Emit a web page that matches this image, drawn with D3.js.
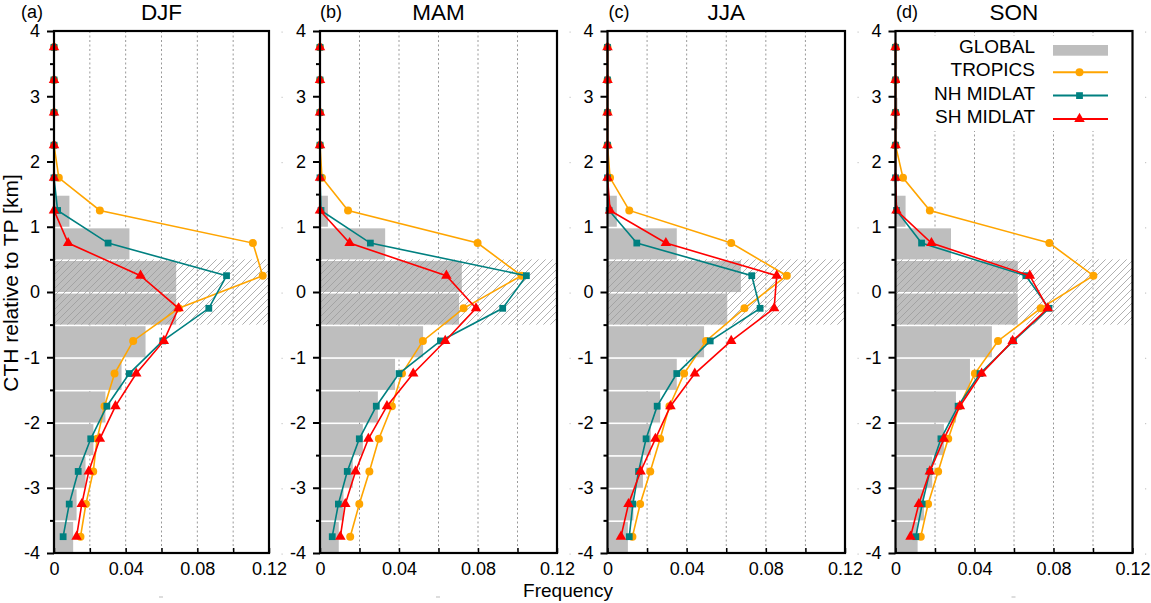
<!DOCTYPE html>
<html><head><meta charset="utf-8">
<script src="https://cdn.jsdelivr.net/npm/d3@7"></script>
<style>
body{margin:0;background:#fff}
svg{display:block;font-family:"Liberation Sans",Arial,Helvetica,sans-serif}
</style>
</head><body>
<svg id="chart" width="1151" height="603"></svg>
<script>
// ---------------- data ----------------
const binCenters = [3.75,3.25,2.75,2.25,1.75,1.25,0.75,0.25,-0.25,-0.75,-1.25,-1.75,-2.25,-2.75,-3.25,-3.75];
const seasons = ["DJF","MAM","JJA","SON"];
const panelTags = ["(a)","(b)","(c)","(d)"];
const yTicks = [-4,-3,-2,-1,0,1,2,3,4];
const yMinorTicks = [-3.5,-2.5,-1.5,-0.5,0.5,1.5,2.5,3.5];
const xTicks = [0,0.02,0.04,0.06,0.08,0.10,0.12];
const xLabelTicks = [0,0.04,0.08,0.12];
const xGrid = [0.02,0.04,0.06,0.08,0.10];
const seriesNames = ["GLOBAL","TROPICS","NH MIDLAT","SH MIDLAT"];

const globalDJF  = [0,0,0,0,0,0.0086,0.0421,0.0682,0.0682,0.0511,0.0377,0.0287,0.0220,0.0176,0.0126,0.0107];
const tropicsDJF = [0,0,0,0,0.0027,0.0256,0.1110,0.1165,0.0696,0.0442,0.0338,0.0282,0.0241,0.0219,0.0178,0.0148];
const nhDJF      = [0,0,0,0,0,0.0020,0.0302,0.0963,0.0864,0.0607,0.0420,0.0295,0.0205,0.0135,0.0085,0.0051];
const shDJF      = [0,0,0,0,0,0,0.0079,0.0483,0.0695,0.0613,0.0459,0.0343,0.0256,0.0194,0.0155,0.0126];

const globalMAM  = [0,0,0,0,0,0.0040,0.0330,0.0718,0.0704,0.0522,0.0380,0.0293,0.0217,0.0166,0.0119,0.0095];
const tropicsMAM = [0,0,0,0,0.0010,0.0142,0.0798,0.1020,0.0727,0.0521,0.0415,0.0364,0.0298,0.0250,0.0199,0.0153];
const nhMAM      = [0,0,0,0,0,0.0005,0.0255,0.1045,0.0925,0.0610,0.0400,0.0285,0.0199,0.0138,0.0093,0.0062];
const shMAM      = [0,0,0,0,0,0,0.0150,0.0640,0.0790,0.0634,0.0472,0.0339,0.0245,0.0180,0.0128,0.0103];

const globalJJA  = [0,0,0,0,0,0.0047,0.0350,0.0674,0.0605,0.0488,0.0350,0.0266,0.0219,0.0179,0.0131,0.0103];
const tropicsJJA = [0,0,0,0,0.0013,0.0110,0.0625,0.0906,0.0692,0.0498,0.0387,0.0313,0.0266,0.0216,0.0165,0.0126];
const nhJJA      = [0,0,0,0,0,0.0008,0.0148,0.0729,0.0771,0.0519,0.0350,0.0251,0.0195,0.0157,0.0128,0.0110];
const shJJA      = [0,0,0,0,0,0.0013,0.0295,0.0855,0.0842,0.0625,0.0441,0.0318,0.0242,0.0167,0.0106,0.0068];

const globalSON  = [0,0,0.0010,0,0,0.0051,0.0281,0.0619,0.0619,0.0488,0.0377,0.0306,0.0245,0.0186,0.0144,0.0112];
const tropicsSON = [0,0,0,0,0.0038,0.0174,0.0779,0.1002,0.0735,0.0519,0.0402,0.0323,0.0267,0.0216,0.0165,0.0128];
const nhSON      = [0,0,0,0,0,0.0005,0.0132,0.0660,0.0777,0.0597,0.0428,0.0317,0.0230,0.0174,0.0135,0.0103];
const shSON      = [0,0,0,0,0,0.0005,0.0182,0.0680,0.0771,0.0593,0.0436,0.0326,0.0245,0.0174,0.0118,0.0076];

// ---------------- layout ----------------
const plotTop = 31, plotBottom = 553;
const lefts  = [54, 320, 607.5, 895.5];
const rights = [269, 557, 845, 1132.5];
const tagX   = [32, 331, 619, 907];
const colors = {global:"#bebebe", tropics:"#ffa500", nh:"#008080", sh:"#ff0000"};

const panelData = [
  {g:globalDJF, t:tropicsDJF, n:nhDJF, s:shDJF},
  {g:globalMAM, t:tropicsMAM, n:nhMAM, s:shMAM},
  {g:globalJJA, t:tropicsJJA, n:nhJJA, s:shJJA},
  {g:globalSON, t:tropicsSON, n:nhSON, s:shSON}
];

const svg = d3.select("#chart");
const defs = svg.append("defs");
const pat = defs.append("pattern").attr("id","hatch").attr("patternUnits","userSpaceOnUse")
  .attr("width",7).attr("height",7);
pat.append("path").attr("d","M-1,1 l2,-2 M0,7 l7,-7 M6,8 l2,-2")
  .attr("stroke","#9c9c9c").attr("stroke-width",0.8);

const y = d3.scaleLinear().domain([-4,4]).range([plotBottom, plotTop]);

const symCircle = d3.symbol().type(d3.symbolCircle).size(50);
const symSquare = d3.symbol().type(d3.symbolSquare).size(46);
const symTri    = d3.symbol().type(d3.symbolTriangle).size(48);

panelData.forEach((pd, i) => {
  const x = d3.scaleLinear().domain([0,0.12]).range([lefts[i], rights[i]]);
  const g = svg.append("g");

  // dotted grid
  g.selectAll(".grid").data(xGrid).enter().append("line")
    .attr("x1", d=>x(d)).attr("x2", d=>x(d)).attr("y1", plotTop).attr("y2", plotBottom)
    .attr("stroke","#9a9a9a").attr("stroke-width",1).attr("stroke-dasharray","2,2.5");

  // global bars
  const bars = binCenters.map((c,k)=>({c, v:pd.g[k]})).filter(d=>d.v>0);
  g.selectAll(".bar").data(bars).enter().append("rect")
    .attr("x", x(0))
    .attr("width", d=>x(d.v)-x(0))
    .attr("y", d=>y(d.c+0.25)+1.6)
    .attr("height", d=>y(d.c-0.25)-y(d.c+0.25)-1.6)
    .attr("fill", colors.global);

  // hatched tropopause layer
  g.append("rect").attr("x", x(0)).attr("width", x(0.12)-x(0))
    .attr("y", y(0.5)).attr("height", y(-0.5)-y(0.5))
    .attr("fill","url(#hatch)");

  // series
  const series = [
    {vals:pd.t, color:colors.tropics, sym:symCircle},
    {vals:pd.n, color:colors.nh, sym:symSquare},
    {vals:pd.s, color:colors.sh, sym:symTri}
  ];
  const line = d3.line().x(d=>x(d.v)).y(d=>y(d.c));
  series.forEach(s => {
    const pts = binCenters.map((c,k)=>({c, v:s.vals[k]}));
    g.append("path").datum(pts).attr("d", line)
      .attr("fill","none").attr("stroke", s.color).attr("stroke-width",1.6);
    g.selectAll(null).data(pts).enter().append("path")
      .attr("d", s.sym)
      .attr("transform", d=>`translate(${x(d.v)},${y(d.c)})`)
      .attr("fill", s.color);
  });

  // frame
  g.append("rect").attr("x", x(0)).attr("y", plotTop)
    .attr("width", x(0.12)-x(0)).attr("height", plotBottom-plotTop)
    .attr("fill","none").attr("stroke","#000").attr("stroke-width",2.2);

  // y axis (major + minor)
  const yAx = g.append("g").attr("transform",`translate(${x(0)},0)`)
    .call(d3.axisLeft(y).tickValues(yTicks).tickSize(7).tickPadding(7).tickFormat(d=>String(d)));
  yAx.select(".domain").remove();
  yAx.selectAll("line").attr("stroke-width",2);
  yAx.selectAll("text").attr("font-size",18).attr("fill","#000")
    .attr("font-family",'"Liberation Sans",Arial,sans-serif');
  const yMin = g.append("g").attr("transform",`translate(${x(0)},0)`)
    .call(d3.axisLeft(y).tickValues(yMinorTicks).tickSize(4).tickFormat(""));
  yMin.select(".domain").remove();
  yMin.selectAll("line").attr("stroke-width",2);

  // x axis: inward ticks every 0.02, labels every 0.04
  const xAx = g.append("g").attr("transform",`translate(0,${plotBottom})`)
    .call(d3.axisBottom(x).tickValues(xTicks).tickSize(-5).tickPadding(9)
      .tickFormat(d => xLabelTicks.some(v=>Math.abs(v-d)<1e-9) ? String(+d.toFixed(2)) : ""));
  xAx.select(".domain").remove();
  xAx.selectAll("line").attr("stroke-width",1.5);
  xAx.selectAll("text").attr("font-size",18).attr("fill","#000")
    .attr("font-family",'"Liberation Sans",Arial,sans-serif');

  // faint right-side marks
  g.selectAll(".rdot").data(yTicks).enter().append("rect")
    .attr("x", x(0.12)+12.5).attr("y", d=>y(d)+0.5).attr("width",1.2).attr("height",1.2)
    .attr("fill","#c8c8c8");

  // titles
  svg.append("text").attr("x", (x(0)+x(0.12))/2).attr("y", 20)
    .attr("text-anchor","middle").attr("font-size",22.5).text(seasons[i]);
  svg.append("text").attr("x", tagX[i]).attr("y", 17.5)
    .attr("text-anchor","middle").attr("font-size",18).text(panelTags[i]);

  // tiny empty-label marks
  if (i !== 2) {
    svg.append("rect").attr("x",(x(0)+x(0.12))/2-2.5).attr("y",596.5)
      .attr("width",4).attr("height",1).attr("fill","#bbb");
  }

  // legend in last panel
  if (i === 3) {
    const lg = svg.append("g");
    lg.append("rect").attr("x",900).attr("y",36).attr("width",230).attr("height",95).attr("fill","#fff");
    const rows = [46, 69.3, 92.6, 115.9];
    seriesNames.forEach((name,k) => {
      lg.append("text").attr("x",1035).attr("y",rows[k]+7).attr("text-anchor","end")
        .attr("font-size",19).text(name);
    });
    lg.append("rect").attr("x",1053).attr("y",45).attr("width",55).attr("height",10.7).attr("fill",colors.global);
    const legSeries = [
      {color:colors.tropics, sym:symCircle},
      {color:colors.nh, sym:symSquare},
      {color:colors.sh, sym:symTri}
    ];
    legSeries.forEach((s,k) => {
      const yy = rows[k+1]+3;
      lg.append("line").attr("x1",1053).attr("x2",1108).attr("y1",yy).attr("y2",yy)
        .attr("stroke",s.color).attr("stroke-width",2);
      lg.append("path").attr("d",s.sym).attr("transform",`translate(1079.5,${yy})`).attr("fill",s.color);
    });
  }
});

// axis titles
svg.append("text").attr("transform","translate(18,283) rotate(-90)")
  .attr("text-anchor","middle").attr("font-size",21).text("CTH relative to TP [km]");
svg.append("text").attr("x",568).attr("y",597).attr("text-anchor","middle")
  .attr("font-size",19).text("Frequency");
</script>
</body></html>
